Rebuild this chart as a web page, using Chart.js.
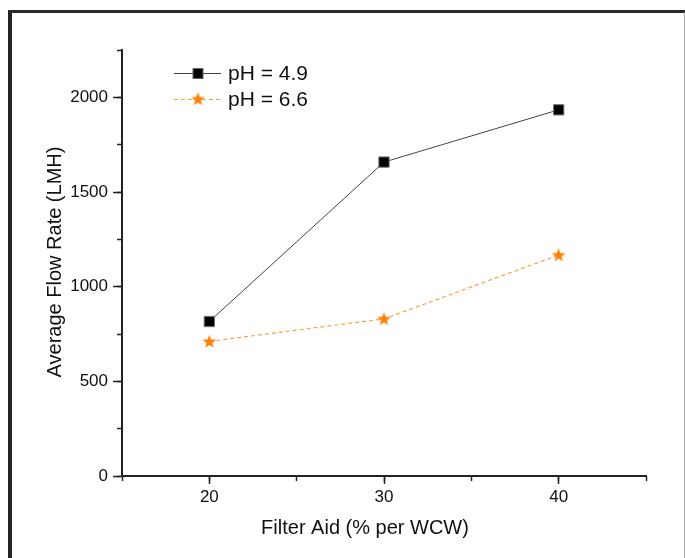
<!DOCTYPE html>
<html>
<head>
<meta charset="utf-8">
<script src="https://cdn.jsdelivr.net/npm/chart.js@4/dist/chart.umd.min.js"></script>
<style>
  html, body { margin: 0; padding: 0; background: #fff; }
  body { width: 685px; height: 558px; position: relative; overflow: hidden; }
  #frame { position: absolute; left: 8px; top: 10px; width: 672px; height: 600px;
           border-left: 4px solid #222; border-top: 3px solid #2a2a2a; border-right: 2px solid #aaa; }
  #wrap { position: absolute; left: 0; top: 0; width: 685px; height: 558px; }
</style>
</head>
<body>
<div id="frame"></div>
<div id="wrap"><canvas id="c" width="685" height="558"></canvas></div>
<script>
// ---- data ----
const categories = [20, 30, 40];
const ph49 = [816, 1658, 1934];
const ph66 = [711, 830, 1167];
const seriesLabels = ['pH = 4.9', 'pH = 6.6'];
const xMajorTicks = [20, 30, 40];
const xMinorTicks = [15, 20, 25, 30, 35, 40, 45];
const yMajorTicks = [0, 500, 1000, 1500, 2000];
const yMinorTicks = [0, 250, 500, 750, 1000, 1250, 1500, 1750, 2000, 2250];
const xTitle = 'Filter Aid (% per WCW)';
const yTitle = 'Average Flow Rate (LMH)';

const FONT = '"Liberation Sans", Arial, sans-serif';
const ORANGE = '#ff8008';

// filled star marker
function makeStar(size, color) {
  const cv = document.createElement('canvas');
  cv.width = size; cv.height = size;
  const g = cv.getContext('2d');
  const cx = size / 2, cy = size / 2 + 0.5, R = size / 2 - 0.3, r = R * 0.42;
  g.beginPath();
  for (let i = 0; i < 10; i++) {
    const ang = -Math.PI / 2 + i * Math.PI / 5;
    const rad = i % 2 === 0 ? R : r;
    const px = cx + rad * Math.cos(ang), py = cy + rad * Math.sin(ang);
    if (i === 0) g.moveTo(px, py); else g.lineTo(px, py);
  }
  g.closePath();
  g.fillStyle = color;
  g.fill();
  return cv;
}
const starImg = makeStar(15, ORANGE);

const toPts = (xs, ys) => xs.map((x, i) => ({ x: x, y: ys[i] }));

const legendPlugin = {
  id: 'customLegend',
  afterDraw(chart) {
    const ctx = chart.ctx;
    const rows = [73, 99];
    const x0 = 174, x1 = 221, xm = 198, xt = 228;
    ctx.save();
    chart.data.datasets.forEach((ds, i) => {
      const y = rows[i];
      ctx.beginPath();
      ctx.strokeStyle = ds.borderColor;
      ctx.lineWidth = ds.borderWidth;
      ctx.setLineDash(ds.borderDash || []);
      ctx.moveTo(x0, y + 0.5); ctx.lineTo(x1, y + 0.5);
      ctx.stroke();
      ctx.setLineDash([]);
      if (i === 0) {
        ctx.fillStyle = '#000';
        ctx.strokeStyle = '#666';
        ctx.lineWidth = 1;
        ctx.fillRect(xm - 5, y - 4.5, 10, 10);
        ctx.strokeRect(xm - 5, y - 4.5, 10, 10);
      } else {
        ctx.drawImage(starImg, xm - 7.5, y - 7.5);
      }
      ctx.fillStyle = '#111';
      ctx.font = '21px ' + FONT;
      ctx.textAlign = 'left';
      ctx.textBaseline = 'middle';
      ctx.fillText(ds.label, xt, y + 1);
    });
    // axis titles
    ctx.fillStyle = '#111';
    ctx.font = '20px ' + FONT;
    ctx.textAlign = 'center';
    ctx.textBaseline = 'middle';
    ctx.fillText(xTitle, 365, 528);
    ctx.translate(55, 262);
    ctx.rotate(-Math.PI / 2);
    ctx.fillText(yTitle, 0, 0);
    ctx.restore();
  }
};

const AX = '#222';
const plain = v => String(v);

new Chart(document.getElementById('c'), {
  type: 'scatter',
  data: {
    datasets: [
      {
        label: seriesLabels[0],
        data: toPts(categories, ph49),
        showLine: true,
        borderColor: '#444',
        borderWidth: 1,
        pointStyle: 'rect',
        pointRadius: 7.3,
        pointHoverRadius: 7.3,
        pointBackgroundColor: '#000',
        pointBorderColor: '#777',
        pointBorderWidth: 1
      },
      {
        label: seriesLabels[1],
        data: toPts(categories, ph66),
        showLine: true,
        borderColor: '#ffa040',
        borderWidth: 1.2,
        borderDash: [4, 3],
        pointStyle: starImg,
        pointRadius: 7,
        pointHoverRadius: 7
      }
    ]
  },
  options: {
    responsive: false,
    animation: false,
    events: [],
    layout: { padding: { top: 50, right: 39, left: 0, bottom: 0 } },
    plugins: { legend: { display: false }, tooltip: { enabled: false } },
    scales: {
      x: {
        type: 'linear', position: 'bottom', min: 15, max: 45, weight: 1,
        afterBuildTicks: s => { s.ticks = xMajorTicks.map(v => ({ value: v })); },
        afterFit: s => { s.height = 82; },
        grid: { drawOnChartArea: false, drawTicks: true, tickLength: 8, tickColor: AX, tickWidth: 1.5 },
        border: { display: true, color: AX, width: 2 },
        ticks: { color: '#111', font: { size: 17, family: FONT }, padding: 3, maxRotation: 0, autoSkip: false, callback: plain }
      },
      x2: {
        type: 'linear', position: 'bottom', min: 15, max: 45, weight: 0,
        afterBuildTicks: s => { s.ticks = xMinorTicks.map(v => ({ value: v })); },
        afterFit: s => { s.height = 0; },
        grid: { drawOnChartArea: false, drawTicks: true, tickLength: 5, tickColor: AX, tickWidth: 1.5 },
        border: { display: false },
        ticks: { display: false }
      },
      y: {
        type: 'linear', position: 'left', min: 0, max: 2250, weight: 1,
        afterBuildTicks: s => { s.ticks = yMajorTicks.map(v => ({ value: v })); },
        afterFit: s => { s.width = 122; },
        grid: { drawOnChartArea: false, drawTicks: true, tickLength: 9, tickColor: AX, tickWidth: 1.5 },
        border: { display: true, color: AX, width: 2 },
        ticks: { color: '#111', font: { size: 17, family: FONT }, padding: 5, autoSkip: false, callback: plain }
      },
      y2: {
        type: 'linear', position: 'left', min: 0, max: 2250, weight: 0,
        afterBuildTicks: s => { s.ticks = yMinorTicks.map(v => ({ value: v })); },
        afterFit: s => { s.width = 0; },
        grid: { drawOnChartArea: false, drawTicks: true, tickLength: 5, tickColor: AX, tickWidth: 1.5 },
        border: { display: false },
        ticks: { display: false }
      }
    }
  },
  plugins: [legendPlugin]
});
</script>
</body>
</html>
